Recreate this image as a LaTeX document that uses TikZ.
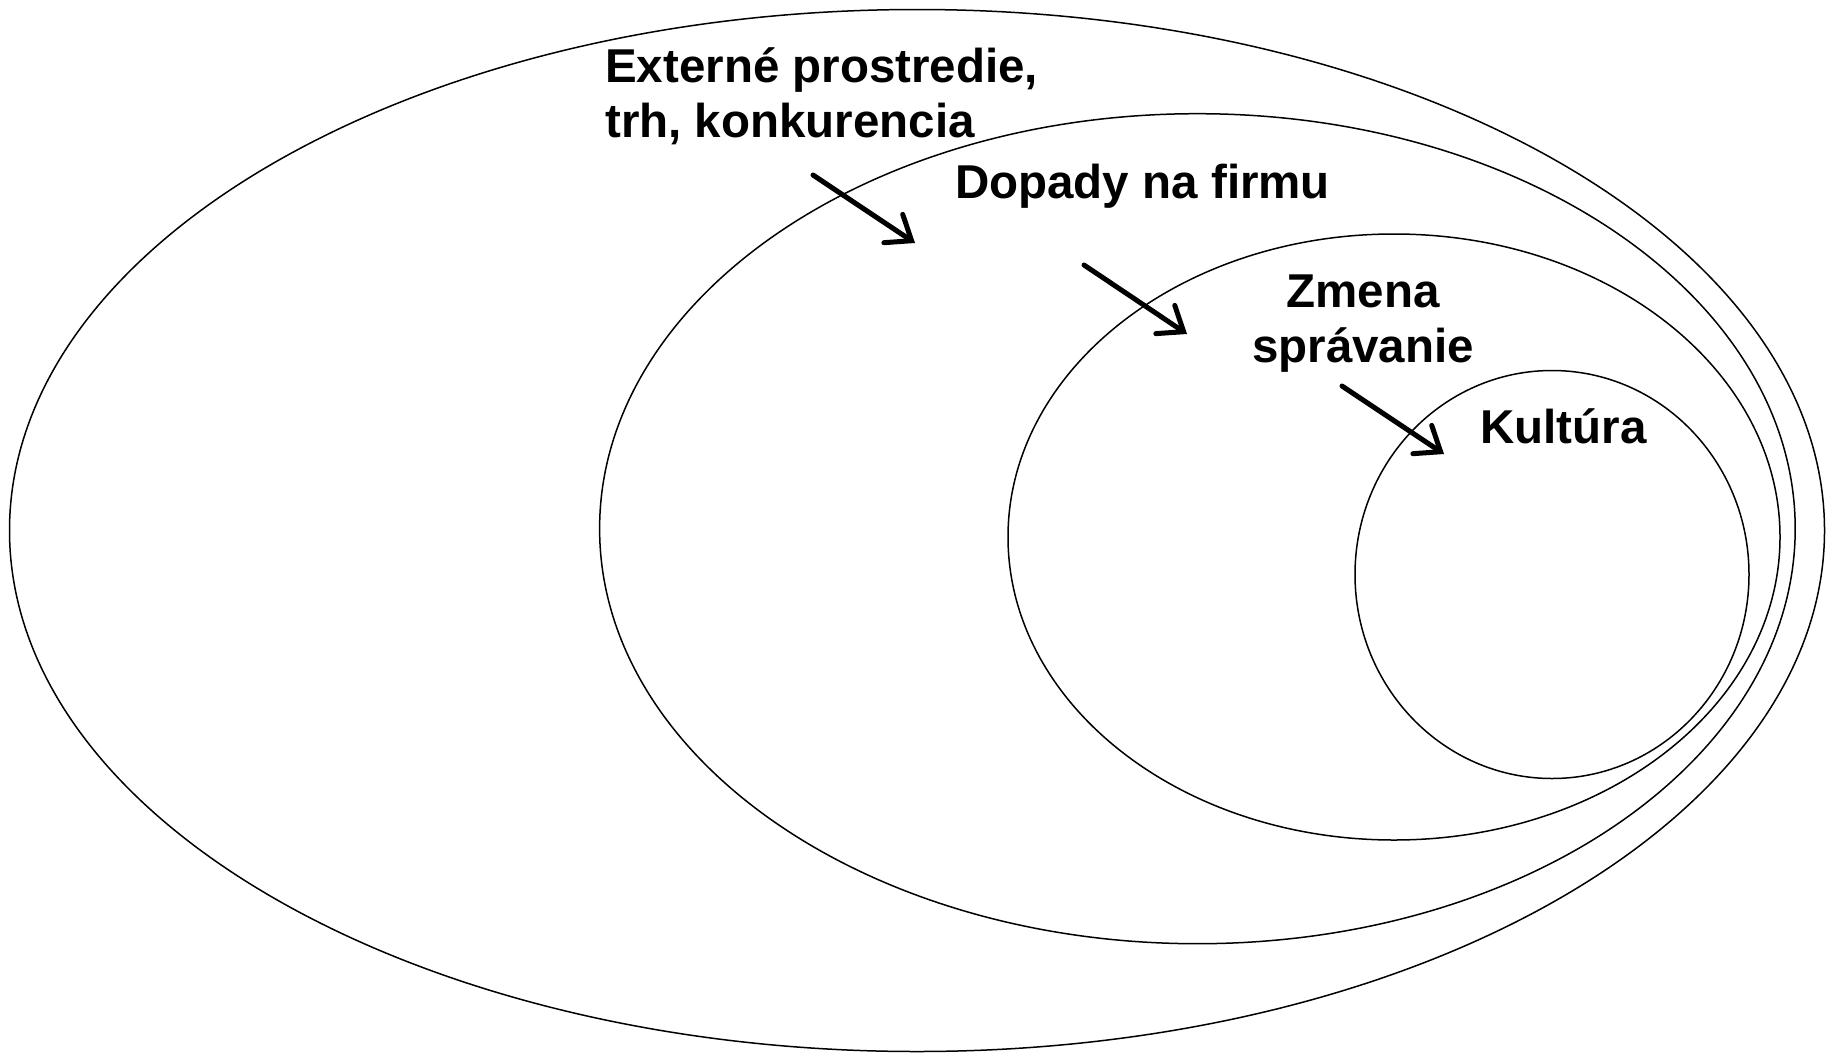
\documentclass[tikz,border=0pt]{standalone}
\usepackage{fontspec}
\setmainfont{Liberation Sans}
\usetikzlibrary{arrows.meta}

\tikzset{
  ring/.style={line width=1.5pt},
  lab/.style={font=\fontsize{47.5}{55}\selectfont\bfseries, inner sep=0pt},
  arr/.style={line width=5pt, line cap=round,
    -{Straight Barb[length=22pt,width=34pt,line cap=round]}}
}

\begin{document}
\begin{tikzpicture}[x=1pt,y=-1pt]
\useasboundingbox (0,0) rectangle (1836,1053);

% the four rings
\draw[ring] (917,530.5) ellipse [x radius=907.5, y radius=521];
\draw[ring] (1197.4,528.7) ellipse [x radius=597.8, y radius=415];
\draw[ring] (1394,537) ellipse [x radius=386, y radius=303];
\draw[ring] (1552,574.5) ellipse [x radius=197, y radius=204];

% labels (base = last line)
\node[lab, align=left, anchor=base west] (ext) at (605,137) {Externé prostredie,\\trh, konkurencia};
\node[lab, anchor=base west] (dop) at (955,198.5) {Dopady na firmu};
\node[lab, align=center, anchor=base] (zme) at (1363,362) {Zmena\\správanie};
\node[lab, anchor=base west] (kul) at (1480,443) {Kultúra};

% arrows
\coordinate (a1s) at (813,175);
\coordinate (a1e) at (915,243);
\coordinate (a2s) at (1084,265);
\coordinate (a2e) at (1187,334);
\coordinate (a3s) at (1342,386);
\coordinate (a3e) at (1444,454);
\draw[arr] (a1s) -- (a1e);
\draw[arr] (a2s) -- (a2e);
\draw[arr] (a3s) -- (a3e);

\end{tikzpicture}
\end{document}
